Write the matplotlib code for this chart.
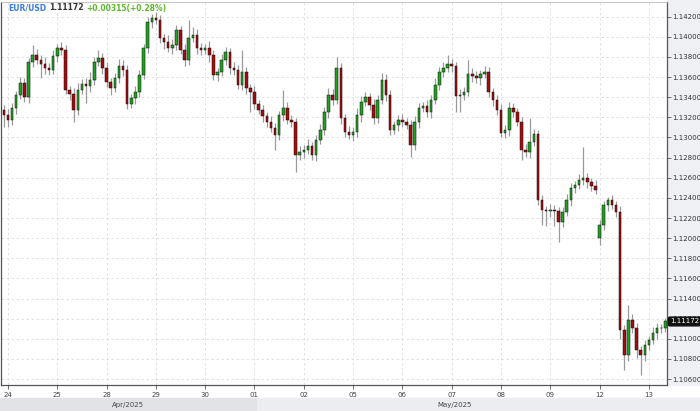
import numpy as np
import matplotlib
matplotlib.use("Agg")
import matplotlib.pyplot as plt
from matplotlib.patches import Rectangle

# 2-hour EUR/USD bars, closes (Apr 23 evening .. May 13 morning)
closes = [
    1.13273, 1.13223, 1.13174, 1.13293, 1.13422, 1.13541, 1.13402, 1.13750, 1.13819, 1.13770, 1.13730, 1.13690,
    1.13670, 1.13810, 1.13889, 1.13869, 1.13472, 1.13432, 1.13273, 1.13472, 1.13531, 1.13511, 1.13571, 1.13750,
    1.13790, 1.13690, 1.13551, 1.13492, 1.13591, 1.13710, 1.13670, 1.13333, 1.13392, 1.13452, 1.13621, 1.13889,
    1.14147, 1.14187, 1.14167, 1.13988, 1.13949, 1.13889, 1.13919, 1.14068, 1.13869, 1.13770, 1.13988, 1.14018,
    1.13889, 1.13869, 1.13889, 1.13819, 1.13621, 1.13651, 1.13770, 1.13849, 1.13690, 1.13670, 1.13521, 1.13651,
    1.13492, 1.13452, 1.13333, 1.13273, 1.13213, 1.13154, 1.13094, 1.13025, 1.13223, 1.13293, 1.13174, 1.13154,
    1.12826, 1.12856, 1.12876, 1.12915, 1.12826, 1.12975, 1.13074, 1.13253, 1.13422, 1.13372, 1.13690, 1.13193,
    1.13054, 1.13025, 1.13054, 1.13223, 1.13352, 1.13402, 1.13323, 1.13193, 1.13372, 1.13571, 1.13422, 1.13074,
    1.13124, 1.13174, 1.13154, 1.13124, 1.12925, 1.13154, 1.13293, 1.13313, 1.13253, 1.13372, 1.13521, 1.13651,
    1.13690, 1.13730, 1.13710, 1.13412, 1.13422, 1.13452, 1.13631, 1.13611, 1.13591, 1.13631, 1.13651, 1.13452,
    1.13372, 1.13273, 1.13044, 1.13074, 1.13293, 1.13253, 1.13154, 1.12876, 1.12856, 1.12955, 1.13035, 1.12379,
    1.12279, 1.12269, 1.12279, 1.12269, 1.12160, 1.12259, 1.12379, 1.12498, 1.12528, 1.12577, 1.12597, 1.12558,
    1.12518, 1.12478, 1.12130, 1.12329, 1.12379, 1.12329, 1.12259, 1.11087, 1.10839, 1.11186, 1.11107, 1.10888,
    1.10839, 1.10938, 1.10988, 1.11057, 1.11107, 1.11109, 1.11172,
]
first_open = 1.13300
gap_opens = {144: 1.12001}  # Monday May 12 opening gap (bar index t)

# wick length beyond the body, in pips
wick_up = [
    4, 5, 6, 5, 4, 6, 5, 4, 10, 6, 5, 7,
    5, 6, 4, 6, 5, 4, 6, 7, 5, 6, 8, 5,
    8, 5, 6, 4, 5, 7, 6, 5, 4, 6, 5, 4,
    5, 4, 6, 5, 4, 7, 6, 5, 4, 6, 18, 8,
    6, 5, 4, 7, 5, 4, 6, 5, 4, 6, 5, 22,
    5, 4, 6, 4, 5, 4, 6, 5, 4, 18, 6, 5,
    4, 6, 5, 7, 4, 5, 6, 5, 7, 6, 11, 5,
    4, 6, 5, 7, 6, 5, 4, 6, 5, 7, 6, 5,
    4, 5, 6, 4, 5, 6, 5, 4, 6, 5, 7, 5,
    6, 9, 5, 4, 6, 5, 14, 6, 5, 4, 6, 5,
    4, 5, 6, 5, 6, 5, 4, 5, 6, 24, 5, 4,
    5, 4, 6, 5, 4, 5, 6, 5, 4, 6, 31, 5,
    4, 6, 5, 4, 3, 5, 4, 6, 5, 15, 6, 5,
    4, 5, 4, 6, 5, 4, 3,
]
wick_dn = [
    5, 12, 7, 5, 6, 4, 5, 6, 5, 4, 14, 6,
    5, 4, 6, 5, 4, 6, 12, 5, 4, 17, 6, 5,
    4, 6, 5, 7, 4, 5, 6, 5, 4, 6, 5, 4,
    5, 6, 4, 5, 7, 4, 6, 5, 4, 6, 5, 4,
    6, 5, 4, 7, 5, 6, 4, 5, 6, 5, 4, 5,
    6, 20, 5, 4, 6, 5, 4, 15, 5, 6, 4, 5,
    17, 5, 6, 4, 5, 6, 4, 5, 6, 5, 4, 6,
    5, 4, 6, 5, 7, 4, 5, 6, 5, 4, 6, 5,
    4, 6, 5, 4, 12, 5, 6, 4, 5, 6, 4, 5,
    5, 4, 6, 16, 16, 5, 4, 6, 5, 7, 4, 5,
    6, 5, 4, 5, 6, 5, 4, 10, 5, 6, 4, 5,
    15, 15, 6, 15, 20, 5, 4, 6, 5, 4, 5, 6,
    5, 4, 7, 5, 6, 4, 5, 9, 15, 6, 5, 8,
    20, 6, 5, 4, 6, 5, 4,
]

day_labels = ["24", "25", "28", "29", "30", "01", "02", "05", "06", "07", "08", "09", "12", "13"]
month_labels = ["Apr/2025", "May/2025"]
y_ticks = [1.106 + 0.002 * i for i in range(19)]
last_price = "1.11172"
change_text = "+0.00315(+0.28%)"

# --- build OHLC ---
t = np.arange(len(closes)) - 2
c = np.array(closes)
o = np.concatenate([[first_open], c[:-1]])
for k, v in gap_opens.items():
    o[k + 2] = v
hi = np.maximum(o, c) + np.array(wick_up) / 10000
lo = np.minimum(o, c) - np.array(wick_dn) / 10000

W, H = 700, 411
fig = plt.figure(figsize=(W / 100, H / 100), dpi=100)
fig.patch.set_facecolor("white")

# right price column / month strip backgrounds (behind everything)
fig.patches.append(Rectangle((667 / W, 26 / H), 33 / W, 1 - 26 / H, transform=fig.transFigure,
                             color="#eef0f3", zorder=-5))
fig.patches.append(Rectangle((0, 0), 257 / W, 13 / H, transform=fig.transFigure,
                             color="#e1e3e6", zorder=-5))
fig.patches.append(Rectangle((257 / W, 0), 1 - 257 / W, 13 / H, transform=fig.transFigure,
                             color="#ebedf0", zorder=-5))

ax = fig.add_axes([1 / W, 26 / H, 666 / W, 383 / H])
ax.set_facecolor("white")

ax.vlines(t, lo, hi, color="#9a9a9a", lw=0.9, zorder=2)
up = c >= o
body_h = np.abs(c - o)
body_h = np.where(body_h < 0.00003, 0.00003, body_h)
ax.bar(t[up], body_h[up], bottom=np.minimum(o, c)[up], width=0.62,
       color="#22a022", edgecolor="#111111", linewidth=0.35, zorder=3)
ax.bar(t[~up], body_h[~up], bottom=np.minimum(o, c)[~up], width=0.62,
       color="#a30d0d", edgecolor="#111111", linewidth=0.35, zorder=3)

ax.set_xlim(-1.7, 160.4)
ax.set_ylim(1.10541, 1.14346)

day_pos = [12 * i for i in range(len(day_labels))]
ax.set_xticks(day_pos)
ax.set_xticklabels(day_labels, fontsize=5, color="#444444")
ax.set_yticks(y_ticks)
ax.set_yticklabels(["%.5f" % v for v in y_ticks], fontsize=5, color="#333333")
ax.yaxis.tick_right()
ax.tick_params(axis="y", length=3, width=0.6, color="#555555", pad=1)
ax.tick_params(axis="x", length=3, width=0.6, color="#555555", pad=2)
ax.grid(True, color="#dddddd", linestyle=(0, (3, 3)), linewidth=0.6)
ax.set_axisbelow(True)

for side in ["left", "right", "bottom"]:
    ax.spines[side].set_color("#555555")
    ax.spines[side].set_linewidth(0.9)
ax.spines["top"].set_color("#bbbbbb")
ax.spines["top"].set_linewidth(0.6)

# month labels
fig.text(128 / W, 6 / H, month_labels[0], fontsize=5, color="#444444", ha="center", va="center")
fig.text(455 / W, 6 / H, month_labels[1], fontsize=5, color="#444444", ha="center", va="center")

# last price tag
ax.annotate(last_price, xy=(1.0, c[-1]), xycoords=("axes fraction", "data"),
            xytext=(2, 0), textcoords="offset points", fontsize=5, color="white",
            ha="left", va="center", annotation_clip=False, zorder=10,
            bbox=dict(boxstyle="round,pad=0.2", fc="#111111", ec="#111111"))

# header
renderer = fig.canvas.get_renderer()
x0 = 8
for txt, col in [("EUR/USD", "#3a7be0"), (last_price, "#333333"), (change_text, "#5cb82a")]:
    tt = fig.text(x0 / W, 1 - 8 / H, txt, fontsize=5.5, fontweight="bold", color=col,
                  ha="left", va="center")
    bb = tt.get_window_extent(renderer)
    x0 += bb.width + 3

fig.savefig("out.png", dpi=100)
